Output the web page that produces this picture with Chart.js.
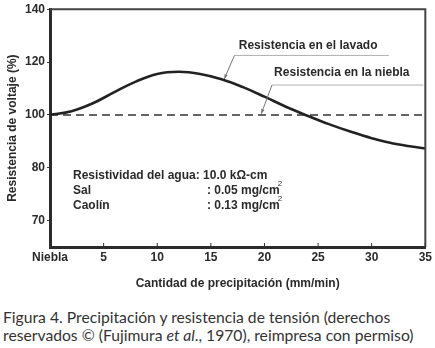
<!DOCTYPE html>
<html lang="es">
<head>
    <meta charset="UTF-8">
    <title>Figura 4</title>
    <script src="https://cdn.jsdelivr.net/npm/chart.js"></script>
    <style>
        * { margin: 0; padding: 0; box-sizing: border-box; }
        body { width: 435px; height: 348px; background: #fff; overflow: hidden; }
        .box { position: absolute; left: 0; top: 0; width: 435px; height: 295px; }
        .caption {
            position: absolute; left: 3px; top: 309px;
            font-family: 'Lato', sans-serif; font-size: 15.7px; line-height: 17.5px; color: #333;
            white-space: nowrap;
        }
    </style>
</head>
<body>
<div class="box"><canvas id="chart"></canvas></div>
<div class="caption">Figura 4. Precipitación y resistencia de tensión (derechos<br>reservados © (Fujimura <i>et al</i>., 1970), reimpresa con permiso)</div>

<script>
    // datos
    const rainfall = [0, 2, 4, 6, 8, 10, 12, 14, 16, 18, 20, 22, 24, 26, 28, 30, 32, 35];
    const washResistance = [100, 101.4, 104.4, 108.6, 112.6, 115.5, 116.3, 115.5, 113.5, 110.5, 106.9, 103.1, 99.7, 96.5, 93.7, 91.2, 89.2, 87.3];
    const fogRainfall = [0, 35];
    const fogResistance = [100, 100];

    const xTickValues = [0, 5, 10, 15, 20, 25, 30, 35];
    const xTickLabels = ['Niebla', '5', '10', '15', '20', '25', '30', '35'];
    const yTickValues = [60, 80, 100, 120, 140];
    const yTickLabels = ['70', '80', '100', '120', '140'];

    const seriesNames = ['Resistencia en el lavado', 'Resistencia en la niebla'];
    const paramLines = [
        ['Resistividad del agua', ': 10.0 kΩ-cm', ''],
        ['Sal', ': 0.05 mg/cm', '2'],
        ['Caolín', ': 0.13 mg/cm', '2']
    ];

    const FONT = "'Liberation Sans', Arial, sans-serif";

    function arrowTo(ctx, x0, y0, x1, y1) {
        ctx.beginPath();
        ctx.moveTo(x0, y0);
        ctx.lineTo(x1, y1);
        ctx.stroke();
        const ang = Math.atan2(y1 - y0, x1 - x0);
        ctx.beginPath();
        ctx.moveTo(x1, y1);
        ctx.lineTo(x1 - 5 * Math.cos(ang - 0.35), y1 - 5 * Math.sin(ang - 0.35));
        ctx.lineTo(x1 - 5 * Math.cos(ang + 0.35), y1 - 5 * Math.sin(ang + 0.35));
        ctx.closePath();
        ctx.fill();
    }

    const notes = {
        id: 'notes',
        afterDatasetsDraw(chart) {
            const { ctx, chartArea: a, scales: { x, y } } = chart;
            ctx.save();

            // marco superior y derecho
            ctx.strokeStyle = '#444';
            ctx.lineWidth = 2;
            ctx.beginPath();
            ctx.moveTo(a.left, a.top);
            ctx.lineTo(a.right, a.top);
            ctx.lineTo(a.right, a.bottom);
            ctx.stroke();

            // marcas del eje x hacia dentro
            ctx.strokeStyle = '#333';
            ctx.lineWidth = 1;
            ctx.beginPath();
            xTickValues.forEach(v => {
                const px = x.getPixelForValue(v);
                ctx.moveTo(px, a.bottom);
                ctx.lineTo(px, a.bottom - 4);
            });
            ctx.stroke();

            // etiquetas de las curvas
            ctx.font = 'bold 12px ' + FONT;
            ctx.fillStyle = '#2a2a2a';
            ctx.textBaseline = 'middle';
            ctx.textAlign = 'left';
            ctx.fillText(seriesNames[0], x.getPixelForValue(17.6), y.getPixelForValue(126.3));
            ctx.fillText(seriesNames[1], x.getPixelForValue(20.9), y.getPixelForValue(115.8));

            ctx.strokeStyle = '#b0b0b0';
            ctx.beginPath();
            ctx.moveTo(x.getPixelForValue(17.2), y.getPixelForValue(122.5));
            ctx.lineTo(x.getPixelForValue(31.6), y.getPixelForValue(122.5));
            ctx.moveTo(x.getPixelForValue(20.7), y.getPixelForValue(111.3));
            ctx.lineTo(x.getPixelForValue(34.8), y.getPixelForValue(111.3));
            ctx.stroke();

            ctx.strokeStyle = '#777';
            ctx.fillStyle = '#777';
            arrowTo(ctx, x.getPixelForValue(17.2), y.getPixelForValue(122.5),
                x.getPixelForValue(16.25), y.getPixelForValue(113.6));
            arrowTo(ctx, x.getPixelForValue(20.7), y.getPixelForValue(111.3),
                x.getPixelForValue(19.7), y.getPixelForValue(100.4));

            // condiciones del ensayo
            ctx.fillStyle = '#2a2a2a';
            const left = a.left + 23;
            const valueX = a.left + 157;
            paramLines.forEach((p, i) => {
                const py = a.top + 166 + i * 15;
                ctx.font = 'bold 12px ' + FONT;
                if (i === 0) {
                    ctx.fillText(p[0] + p[1], left, py);
                } else {
                    ctx.fillText(p[0], left, py);
                    ctx.fillText(p[1], valueX, py);
                    const w = ctx.measureText(p[1]).width;
                    ctx.font = '8px ' + FONT;
                    ctx.fillText(p[2], valueX + w - 2, py - 6);
                }
            });

            ctx.restore();
        }
    };

    new Chart(document.getElementById('chart'), {
        type: 'line',
        data: {
            datasets: [
                {
                    label: seriesNames[0],
                    data: rainfall.map((r, i) => ({ x: r, y: washResistance[i] })),
                    borderColor: '#222',
                    borderWidth: 2.6,
                    pointRadius: 0,
                    tension: 0.4,
                    fill: false
                },
                {
                    label: seriesNames[1],
                    data: fogRainfall.map((r, i) => ({ x: r, y: fogResistance[i] })),
                    borderColor: '#333',
                    borderWidth: 1.5,
                    borderDash: [8, 5],
                    pointRadius: 0,
                    fill: false
                }
            ]
        },
        options: {
            responsive: true,
            maintainAspectRatio: false,
            animation: false,
            layout: { padding: { top: 6, right: 8, left: 0, bottom: 0 } },
            plugins: { legend: { display: false }, tooltip: { enabled: false } },
            scales: {
                x: {
                    type: 'linear',
                    min: 0,
                    max: 35,
                    afterBuildTicks: s => { s.ticks = xTickValues.map(v => ({ value: v })); },
                    afterFit: s => { s.height = 48; },
                    ticks: {
                        padding: 3,
                        color: '#2a2a2a',
                        font: { family: FONT, size: 12, weight: 'bold' },
                        callback: (v) => xTickLabels[xTickValues.indexOf(v)],
                        maxRotation: 0,
                        autoSkip: false
                    },
                    grid: { display: false, drawTicks: false },
                    border: { display: true, width: 3, color: '#2b2b2b' },
                    title: {
                        display: true,
                        text: 'Cantidad de precipitación (mm/min)',
                        color: '#2a2a2a',
                        font: { family: FONT, size: 12, weight: 'bold' },
                        padding: { top: 0, bottom: 4 }
                    }
                },
                y: {
                    min: 50,
                    max: 140,
                    afterBuildTicks: s => { s.ticks = yTickValues.map(v => ({ value: v })); },
                    afterFit: s => { s.width = 50; },
                    ticks: {
                        padding: 2,
                        color: '#2a2a2a',
                        font: { family: FONT, size: 12, weight: 'bold' },
                        callback: (v) => yTickLabels[yTickValues.indexOf(v)],
                        autoSkip: false
                    },
                    grid: { drawOnChartArea: false, drawTicks: true, tickLength: 3, color: '#333' },
                    border: { display: true, width: 3, color: '#2b2b2b' },
                    title: {
                        display: true,
                        text: 'Resistencia de voltaje (%)',
                        color: '#2a2a2a',
                        font: { family: FONT, size: 12, weight: 'bold' },
                        padding: { top: 5, bottom: 0 }
                    }
                }
            }
        },
        plugins: [notes]
    });
</script>
</body>
</html>
